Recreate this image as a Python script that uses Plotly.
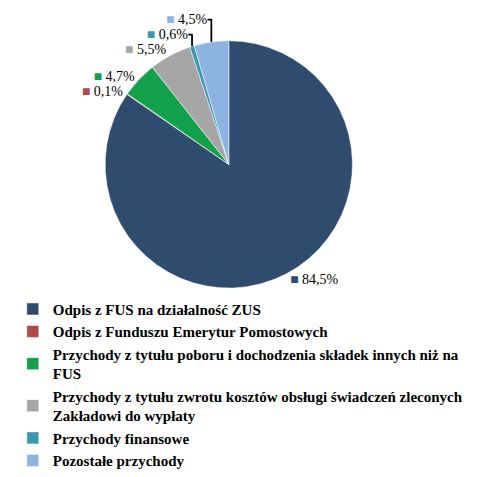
import plotly.graph_objects as go

labels = [
    "Odpis z FUS na działalność ZUS",
    "Odpis z Funduszu Emerytur Pomostowych",
    "Przychody z tytułu poboru i dochodzenia składek innych niż na<br>FUS",
    "Przychody z tytułu zwrotu kosztów obsługi świadczeń zleconych<br>Zakładowi do wypłaty",
    "Przychody finansowe",
    "Pozostałe przychody",
]
values = [84.5, 0.1, 4.7, 5.5, 0.6, 4.5]
colors = ["#2F4B6E", "#B04A48", "#12A04A", "#A6A6A6", "#3A98AE", "#8DB3E2"]

texts = [f"<span style='color:{c}'>■</span> " + f"{v:.1f}".replace(".", ",") + "%"
         for c, v in zip(colors, values)]

fig = go.Figure(go.Pie(
    labels=labels,
    values=values,
    text=texts,
    textinfo="text",
    textposition="outside",
    sort=False,
    direction="clockwise",
    rotation=0,
    marker=dict(colors=colors, line=dict(color="white", width=0.5)),
    textfont=dict(family="Liberation Serif", size=14, color="#000"),
    domain=dict(x=[0.19, 0.73], y=[0.43, 0.97]),
))

fig.update_layout(
    width=480, height=477,
    margin=dict(l=0, r=0, t=0, b=0),
    paper_bgcolor="white",
    showlegend=True,
    legend=dict(
        x=0.01, y=0.42, xanchor="left", yanchor="top",
        font=dict(family="Liberation Serif", size=15, color="#000", weight="bold"),
        tracegroupgap=4,
        itemwidth=30,
    ),
)

fig.write_html("out.html")
